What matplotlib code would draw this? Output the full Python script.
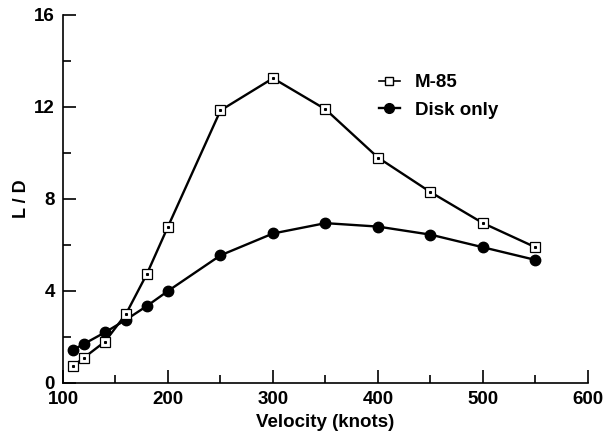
import matplotlib
matplotlib.use("Agg")
import matplotlib.pyplot as plt
from matplotlib.ticker import MultipleLocator
from matplotlib.lines import Line2D

plt.rcParams["font.family"] = ["Liberation Sans", "DejaVu Sans"]
plt.rcParams["font.weight"] = "bold"

velocity = [110, 120, 140, 160, 180, 200, 250, 300, 350, 400, 450, 500, 550]
ld_m85 = [0.75, 1.1, 1.8, 3.0, 4.75, 6.8, 11.85, 13.25, 11.9, 9.8, 8.3, 6.95, 5.9]
ld_disk = [1.45, 1.7, 2.2, 2.75, 3.35, 4.0, 5.55, 6.5, 6.95, 6.8, 6.45, 5.9, 5.35]

fig = plt.figure(figsize=(6.08, 4.36), dpi=100)
ax = fig.add_axes([0.1036, 0.1216, 0.8635, 0.844])

ax.plot(velocity, ld_disk, color="black", lw=1.7, marker="o", ms=7.5,
        mfc="black", mec="black", zorder=3)
ax.plot(velocity, ld_m85, color="black", lw=1.7, marker="s", ms=7,
        mfc="white", mec="black", mew=0.9, zorder=4)
ax.plot(velocity, ld_m85, ls="none", marker="s", ms=1.2, mfc="black",
        mec="black", zorder=5)

ax.set_xlim(100, 600)
ax.set_ylim(0, 16)
ax.xaxis.set_major_locator(MultipleLocator(100))
ax.xaxis.set_minor_locator(MultipleLocator(50))
ax.yaxis.set_major_locator(MultipleLocator(4))
ax.yaxis.set_minor_locator(MultipleLocator(2))

ax.spines["top"].set_visible(False)
ax.spines["right"].set_visible(False)
for s in ("left", "bottom"):
    ax.spines[s].set_linewidth(1.2)

ax.tick_params(axis="both", which="major", direction="in", length=9.5,
               width=1.2, labelsize=13.5, pad=6)
ax.tick_params(axis="both", which="minor", direction="in", length=6, width=1.2)
for lab in ax.get_xticklabels() + ax.get_yticklabels():
    lab.set_fontweight("bold")

ax.set_xlabel("Velocity (knots)", fontsize=13.5, fontweight="bold", labelpad=4)
ax.set_ylabel("L / D", fontsize=13, fontweight="bold", labelpad=3)

handles = [
    Line2D([], [], color="black", lw=1.2, marker="s", ms=6, mfc="white", mec="black"),
    Line2D([], [], color="black", lw=1.7, marker="o", ms=7, mfc="black", mec="black"),
]
ax.legend(handles, ["M-85", "Disk only"], loc="upper left",
          bbox_to_anchor=(0.57, 0.885), frameon=False, fontsize=13.5,
          handlelength=1.1, handletextpad=0.8, labelspacing=0.55)

fig.savefig("out.png", dpi=100, facecolor="white")
